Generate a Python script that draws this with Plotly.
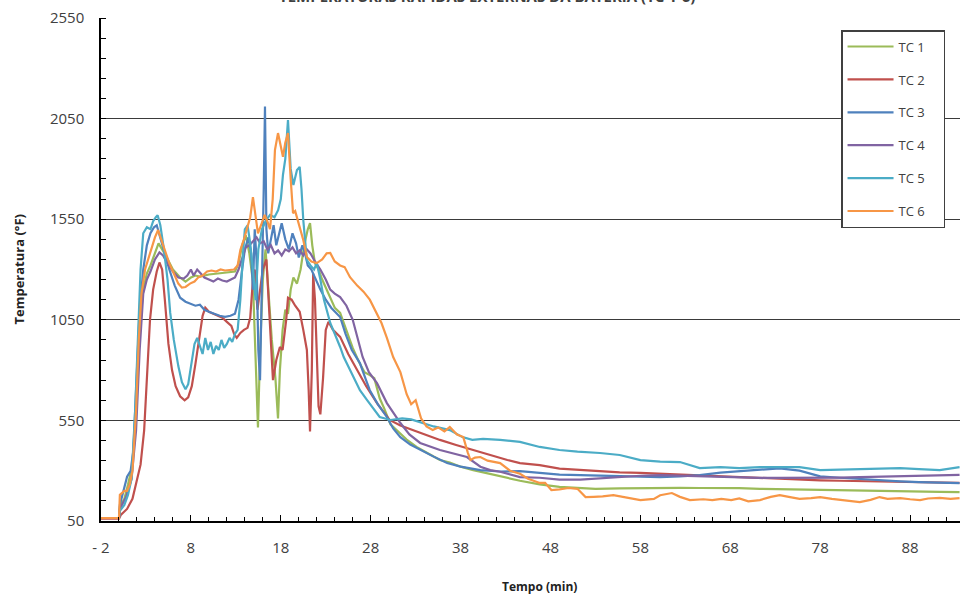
import plotly.graph_objects as go

# ---------------- data ----------------
tc1_t = [-2, 0, 0.1, 0.6, 1.0, 1.5, 2.0, 2.3, 2.7, 3.1,
         3.5, 4.0, 4.4, 5.2, 6.0, 6.8, 7.4, 8.0, 8.5, 9.0,
         10.0, 11.0, 12.0, 12.9, 13.3, 13.7, 14.1, 14.5, 14.9, 15.2,
         15.46, 15.7, 16.0, 16.3, 16.6, 17.0, 17.4, 17.69, 17.9, 18.2,
         18.5, 18.8, 19.1, 19.4, 19.8, 20.2, 20.6, 21.0, 21.25, 21.5,
         21.8, 22.2, 22.6, 23.1, 23.5, 24.0, 24.6, 25.3, 26.0, 26.7,
         27.3, 27.9, 28.4, 29.0, 29.5, 30.2, 31.0, 32.0, 33.1, 34.4,
         35.7, 36.8, 38.0, 39.4, 40.5, 42.4, 44.6, 46.8, 49.0, 51.0,
         53.0, 55.7, 58.0, 60.0, 62.4, 64.6, 66.8, 69.0, 71.3, 73.5,
         75.7, 78.0, 80.0, 82.4, 84.6, 86.9, 89.0, 91.3, 93.5]
tc1_temp = [65, 65, 120, 160, 230, 330, 700, 1000, 1200, 1280,
            1320, 1380, 1430, 1370, 1300, 1260, 1240, 1260, 1270, 1265,
            1275, 1280, 1285, 1290, 1330, 1420, 1470, 1380, 1240, 900,
            515, 900, 1250, 1400, 1200, 950, 760, 560, 800, 1000,
            1100, 1080, 1200, 1260, 1230, 1300, 1420, 1500, 1530, 1420,
            1330, 1300, 1250, 1200, 1160, 1110, 1084, 1000, 910, 840,
            790, 775, 760, 660, 610, 530, 495, 455, 418, 385,
            353, 340, 320, 303, 292, 275, 250, 232, 220, 215,
            210, 212, 214, 213, 215, 214, 215, 213, 210, 208,
            206, 204, 203, 201, 199, 197, 196, 195, 194]

tc2_t = [-2, 0, 0.2, 0.9, 1.5, 2.0, 2.4, 2.8, 3.1, 3.45,
         3.8, 4.2, 4.5, 4.8, 5.1, 5.5, 5.9, 6.3, 6.8, 7.3,
         7.7, 8.1, 8.5, 8.9, 9.3, 9.6, 10.0, 10.5, 11.0, 11.5,
         12.0, 12.5, 12.8, 13.1, 13.5, 13.9, 14.3, 14.6, 14.9, 15.1,
         15.4, 15.7, 16.0, 16.4, 16.8, 17.13, 17.5, 17.9, 18.2, 18.6,
         18.8, 19.2, 19.6, 20.1, 20.5, 20.9, 21.1, 21.25, 21.45, 21.6,
         21.8, 22.0, 22.2, 22.4, 22.7, 23.0, 23.3, 23.8, 24.6, 25.5,
         26.5, 27.5, 28.7, 30.1, 31.3, 32.7, 34.0, 35.7, 37.5, 39.4,
         41.0, 43.2, 44.6, 46.8, 49.0, 51.3, 53.5, 55.7, 58.0, 60.2,
         62.4, 64.6, 66.9, 69.0, 71.3, 73.5, 75.7, 78.0, 80.2, 82.4,
         84.6, 86.9, 89.0, 91.3, 93.5]
tc2_temp = [62, 62, 80, 110, 160, 250, 330, 500, 750, 1050,
            1200, 1290, 1335, 1300, 1150, 930, 800, 720, 670, 650,
            665, 720, 830, 960, 1070, 1110, 1090, 1080, 1070, 1060,
            1040, 1020, 980, 960, 985, 1000, 1010, 1060, 1250, 1300,
            1100, 1200, 1300, 1350, 1050, 750, 850, 915, 900, 1050,
            1160, 1150, 1120, 1090, 1000, 900, 700, 495, 800, 1280,
            1150, 900, 620, 580, 760, 1000, 1040, 1000, 965, 880,
            800, 720, 636, 552, 525, 502, 480, 453, 428, 403,
            380, 353, 338, 328, 310, 303, 298, 292, 289, 285,
            281, 277, 272, 268, 262, 257, 254, 252, 250, 248,
            246, 243, 241, 240, 239]

tc3_t = [-2, 0, 0.1, 0.6, 0.9, 1.3, 1.6, 2.0, 2.3, 2.7,
         3.1, 3.5, 3.9, 4.2, 4.5, 5.0, 5.6, 6.2, 6.8, 7.4,
         7.9, 8.5, 9.0, 9.5, 10.0, 10.6, 11.2, 11.8, 12.4, 12.9,
         13.3, 13.7, 14.0, 14.4, 14.7, 14.9, 15.1, 15.3, 15.5, 15.69,
         15.9, 16.1, 16.24, 16.4, 16.6, 16.9, 17.2, 17.5, 17.8, 18.1,
         18.5, 18.9, 19.3, 19.7, 20.0, 20.4, 20.7, 21.0, 21.4, 21.8,
         22.4, 23.0, 23.6, 24.6, 25.2, 25.9, 26.8, 27.4, 27.9, 28.8,
         29.8, 30.5, 31.3, 32.4, 33.5, 35.0, 36.5, 38.0, 40.2, 42.4,
         44.6, 46.8, 49.0, 51.3, 53.5, 55.7, 58.0, 60.2, 62.4, 64.6,
         66.9, 69.0, 71.3, 73.5, 75.7, 78.0, 80.2, 82.4, 84.6, 86.9,
         89.0, 91.3, 93.5]
tc3_temp = [65, 65, 130, 220, 270, 300, 400, 800, 1100, 1300,
            1420, 1480, 1510, 1520, 1470, 1400, 1300, 1220, 1160, 1140,
            1130, 1120, 1125, 1100, 1090, 1080, 1070, 1065, 1070, 1080,
            1150, 1300, 1400, 1460, 1380, 1200, 1500, 1350, 900, 750,
            1200, 1700, 2110, 1500, 1380, 1450, 1520, 1420, 1480, 1530,
            1450, 1400, 1480, 1430, 1360, 1420, 1380, 1320, 1300, 1260,
            1200, 1150, 1110, 1064, 980, 900, 835, 760, 700, 630,
            567, 510, 467, 430, 403, 370, 338, 320, 303, 296,
            298, 288, 280, 278, 276, 272, 270, 268, 272, 278,
            290, 296, 306, 312, 300, 272, 265, 258, 252, 247,
            243, 240, 238]

tc4_t = [-2, 0, 0.1, 0.8, 1.4, 1.9, 2.3, 2.7, 3.1, 3.5,
         4.0, 4.5, 4.9, 5.4, 6.0, 6.6, 7.2, 7.6, 8.0, 8.3,
         8.7, 9.1, 9.5, 10.0, 10.5, 11.0, 11.5, 12.0, 12.5, 12.9,
         13.3, 13.7, 14.1, 14.5, 14.9, 15.3, 15.7, 16.1, 16.5, 16.9,
         17.3, 17.7, 18.1, 18.5, 18.9, 19.3, 19.7, 20.1, 20.5, 20.9,
         21.3, 21.8, 22.4, 23.0, 23.5, 24.0, 24.6, 25.3, 26.0, 26.5,
         27.1, 27.8, 28.7, 29.8, 30.5, 31.3, 32.3, 33.5, 35.7, 37.3,
         38.7, 40.2, 41.3, 42.4, 44.6, 46.8, 49.0, 51.3, 53.5, 55.7,
         58.0, 60.2, 62.4, 64.6, 66.9, 69.0, 71.3, 73.5, 75.7, 78.0,
         80.2, 82.4, 84.6, 86.9, 89.0, 91.3, 93.5]
tc4_temp = [65, 65, 110, 170, 260, 500, 900, 1180, 1250, 1290,
            1350, 1385, 1370, 1330, 1290, 1260, 1255, 1270, 1300, 1270,
            1300, 1280, 1260, 1250, 1240, 1255, 1245, 1240, 1250, 1260,
            1300, 1360, 1410, 1420, 1440, 1460, 1430, 1440, 1400, 1420,
            1380, 1395, 1370, 1400, 1390, 1410, 1380, 1395, 1370, 1400,
            1380, 1340, 1300, 1250, 1200, 1180, 1163, 1120, 1050, 960,
            865, 790, 735, 636, 590, 537, 480, 438, 403, 385,
            368, 320, 303, 295, 268, 265, 256, 256, 262, 270,
            275, 278, 275, 272, 268, 265, 264, 264, 264, 265,
            266, 268, 270, 272, 275, 277, 279]

tc5_t = [-2, 0, 0.1, 0.6, 1.0, 1.4, 1.8, 2.1, 2.4, 2.7,
         3.1, 3.5, 3.8, 4.1, 4.3, 4.6, 5.0, 5.4, 5.7, 6.1,
         6.6, 7.0, 7.4, 7.7, 8.0, 8.4, 8.7, 9.0, 9.3, 9.6,
         9.9, 10.2, 10.5, 10.8, 11.1, 11.4, 11.7, 12.0, 12.3, 12.6,
         12.9, 13.2, 13.5, 13.8, 14.0, 14.3, 14.6, 14.9, 15.2, 15.5,
         15.9, 16.3, 16.8, 17.3, 17.7, 18.0, 18.24, 18.5, 18.8, 19.1,
         19.4, 19.8, 20.1, 20.3, 20.5, 20.9, 21.3, 21.7, 22.0, 22.4,
         22.8, 23.5, 24.2, 24.6, 25.0, 25.7, 26.8, 27.6, 29.0, 30.2,
         31.5, 32.5, 33.5, 35.0, 36.8, 38.2, 39.3, 40.5, 42.4, 44.6,
         46.8, 49.0, 51.0, 53.5, 55.7, 58.0, 60.2, 62.4, 64.6, 66.9,
         69.0, 71.3, 73.5, 75.7, 78.0, 80.2, 82.4, 84.6, 86.9, 89.0,
         91.3, 93.5]
tc5_temp = [65, 65, 100, 130, 180, 260, 600, 1000, 1300, 1480,
            1510, 1500, 1540, 1560, 1570, 1520, 1400, 1250, 1084, 950,
            820, 740, 705, 730, 820, 930, 960, 920, 880, 960,
            900, 940, 880, 920, 900, 950, 910, 930, 960, 940,
            980, 1000, 1150, 1380, 1500, 1520, 1430, 1300, 1148, 1400,
            1500, 1540, 1571, 1560, 1595, 1650, 1770, 1850, 2043, 1800,
            1720, 1795, 1810, 1700, 1546, 1347, 1320, 1300, 1332, 1250,
            1150, 1034, 960, 915, 865, 800, 700, 651, 567, 552,
            560, 555, 542, 520, 502, 467, 453, 458, 453, 443,
            418, 403, 395, 388, 378, 353, 345, 343, 313, 318,
            313, 318, 318, 318, 303, 306, 310, 313, 313, 308,
            303, 318]

tc6_t = [-2, 0, 0.1, 0.6, 0.9, 1.2, 1.5, 1.9, 2.2, 2.5,
         2.9, 3.3, 3.7, 4.0, 4.35, 4.7, 5.1, 5.6, 6.1, 6.6,
         7.0, 7.4, 7.9, 8.4, 8.8, 9.3, 9.8, 10.3, 10.8, 11.3,
         11.8, 12.3, 12.8, 13.2, 13.5, 13.9, 14.2, 14.6, 14.9, 15.2,
         15.46, 15.8, 16.2, 16.5, 16.8, 17.1, 17.35, 17.69, 18.0, 18.24,
         18.5, 18.8, 19.1, 19.36, 19.6, 19.8, 20.1, 20.5, 20.9, 21.4,
         22.0, 22.6, 23.1, 23.5, 24.0, 24.6, 25.1, 25.7, 26.5, 27.2,
         27.9, 28.5, 29.2, 29.8, 30.5, 31.3, 32.0, 32.5, 33.0, 33.6,
         34.2, 34.9, 35.5, 36.2, 36.8, 37.6, 38.3, 38.8, 39.1, 39.6,
         40.2, 41.0, 42.4, 43.5, 44.6, 45.5, 46.8, 47.4, 48.1, 49.0,
         50.0, 51.0, 51.9, 52.8, 53.8, 55.0, 56.5, 58.0, 59.5, 60.2,
         61.5, 62.4, 63.5, 65.0, 66.0, 67.0, 68.1, 69.0, 70.0, 71.3,
         72.5, 73.5, 74.5, 75.7, 77.0, 78.0, 79.3, 80.2, 81.2, 82.4,
         83.6, 84.6, 85.5, 86.9, 88.0, 89.1, 90.0, 91.3, 92.5, 93.5]
tc6_temp = [65, 65, 180, 200, 200, 230, 300, 600, 950, 1180,
            1300, 1360, 1420, 1460, 1496, 1450, 1400, 1330, 1280, 1230,
            1210, 1213, 1230, 1240, 1260, 1270, 1290, 1295, 1290, 1300,
            1295, 1298, 1300, 1320, 1397, 1450, 1496, 1560, 1660, 1560,
            1480, 1520, 1571, 1540, 1500, 1650, 1894, 1978, 1920, 1860,
            1930, 1978, 1750, 1580, 1590, 1560, 1520, 1447, 1362, 1340,
            1332, 1350, 1380, 1382, 1340, 1320, 1312, 1262, 1220, 1190,
            1150, 1100, 1034, 960, 865, 790, 680, 630, 650, 560,
            520, 502, 515, 495, 517, 480, 467, 390, 353, 365,
            368, 350, 338, 300, 285, 260, 239, 240, 204, 207,
            214, 210, 169, 170, 172, 179, 165, 154, 160, 178,
            189, 170, 154, 158, 154, 160, 154, 162, 148, 154,
            170, 179, 170, 160, 164, 169, 160, 155, 148, 144,
            155, 169, 160, 164, 158, 154, 162, 165, 160, 164]

series_names = ["TC 1", "TC 2", "TC 3", "TC 4", "TC 5", "TC 6"]
series_colors = ["#9BBB59", "#C0504D", "#4F81BD", "#8064A2", "#4BACC6", "#F79646"]

x_tick_vals = [-2, 8, 18, 28, 38, 48, 58, 68, 78, 88]
x_tick_text = ["- 2", "8", "18", "28", "38", "48", "58", "68", "78", "88"]
y_tick_vals = [50, 550, 1050, 1550, 2050, 2550]
y_tick_text = ["50", "550", "1050", "1550", "2050", "2550"]

title_text = "TEMPERATURAS RÁPIDAS EXTERNAS DA BATERIA (TC 1-6)"
x_title = "Tempo (min)"
y_title = "Temperatura (°F)"

# ---------------- figure ----------------
FONT = "Open Sans"
all_t = [tc1_t, tc2_t, tc3_t, tc4_t, tc5_t, tc6_t]
all_v = [tc1_temp, tc2_temp, tc3_temp, tc4_temp, tc5_temp, tc6_temp]

fig = go.Figure()
for name, color, t, v in zip(series_names, series_colors, all_t, all_v):
    fig.add_trace(go.Scatter(
        x=t, y=v, mode="lines", name=name + "&nbsp;&nbsp;&nbsp;&nbsp;",
        legendgroup=name, hovertemplate=name + ": %{y}<extra></extra>",
        line=dict(color=color, width=2.2),
    ))

fig.update_layout(
    width=960, height=595, autosize=False,
    margin=dict(l=101, r=0, t=18, b=74, autoexpand=False),
    paper_bgcolor="white", plot_bgcolor="white",
    font=dict(family=FONT, color="#404040"),
    showlegend=True,
    legend=dict(
        x=0.8615, y=0.976, xanchor="left", yanchor="top",
        bgcolor="white", bordercolor="#404040", borderwidth=1.5,
        font=dict(family=FONT, size=13, color="#404040"),
        tracegroupgap=13, traceorder="grouped",
        itemwidth=46,
    ),
    xaxis=dict(
        range=[-2, 93.55], tickmode="array",
        tickvals=x_tick_vals, ticktext=x_tick_text,
        ticks="inside", ticklen=6, tickwidth=1, tickcolor="black",
        showline=True, linecolor="black", linewidth=1.5,
        showgrid=False, zeroline=False, automargin=False,
        tickfont=dict(family=FONT, size=15, color="#404040"),
        ticklabelstandoff=12,
        minor=dict(dtick=2, tick0=-2, ticks="inside", ticklen=4,
                   tickcolor="black", showgrid=False),
    ),
    yaxis=dict(
        range=[50, 2550], tickmode="array",
        tickvals=y_tick_vals, ticktext=y_tick_text,
        ticks="", showline=True, linecolor="black", linewidth=1.5,
        showgrid=True, gridcolor="#3a3a3a", gridwidth=1.3, zeroline=False,
        automargin=False,
        tickfont=dict(family=FONT, size=15, color="#404040"),
        ticklabelstandoff=12,
        minor=dict(dtick=100, tick0=50, ticks="inside", ticklen=5,
                   tickcolor="black", showgrid=False),
    ),
    annotations=[
        dict(text="<b>" + title_text + "</b>", xref="paper", yref="paper",
             x=0.449, y=1.0195, xanchor="center", yanchor="bottom",
             showarrow=False, font=dict(family=FONT, size=15, color="#404040")),
        dict(text="<b>" + x_title + "</b>", xref="paper", yref="paper",
             x=0.51, y=-0.13, xanchor="center", yanchor="middle",
             showarrow=False, font=dict(family=FONT, size=12, color="#222222")),
        dict(text="<b>" + y_title + "</b>", xref="paper", yref="paper",
             x=-0.0966, y=0.5, xanchor="center", yanchor="middle", textangle=-90,
             showarrow=False, font=dict(family=FONT, size=13, color="#222222")),
    ],
)

page_fix = (
    "document.body.style.margin='0';"
    "document.body.style.padding='0';"
    "document.body.style.overflow='hidden';"
    "var gd=document.getElementById('{plot_id}');"
    "Plotly.relayout(gd,{width:960,height:595});"
)

fig.write_html("out.html", config={"responsive": False, "displayModeBar": False},
               post_script=page_fix)
